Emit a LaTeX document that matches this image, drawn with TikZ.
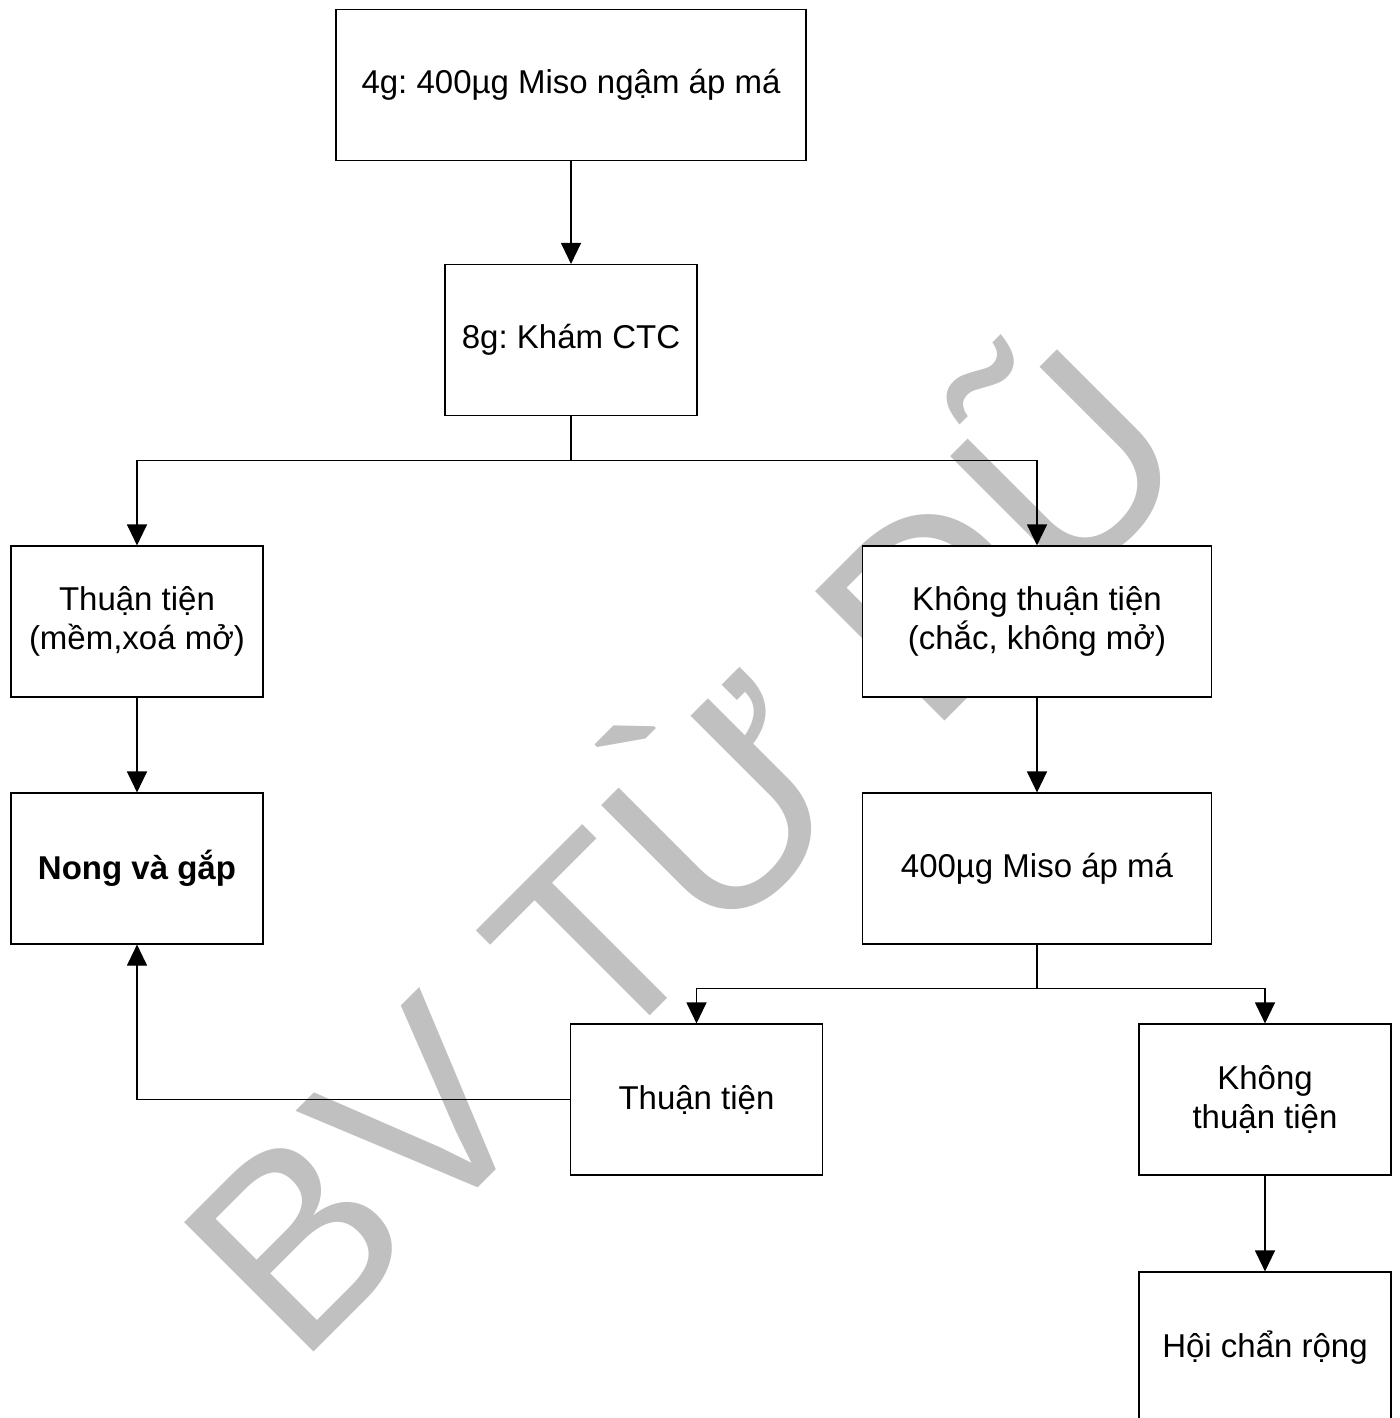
\documentclass[tikz,border=0pt]{standalone}
\usepackage{fontspec}
\setmainfont{Liberation Sans}
\usetikzlibrary{arrows.meta,trees}
\definecolor{wmgray}{HTML}{C0C0C0}
\frenchspacing
\begin{document}
\begin{tikzpicture}[->, >={Triangle[length=10.5pt,width=10pt]}, x=0.5pt, y=-0.5pt, line width=0.55pt,
        box/.style={draw, fill=white, minimum width=126pt, minimum height=75.5pt, inner sep=0pt, align=center, font=\fontsize{16.5}{19.5}\selectfont},
        widebox/.style={box, minimum width=174.5pt},
        edge from parent path={(\tikzparentnode.south) -- ++(0,-22pt) -| (\tikzchildnode.north)},
        level 1/.style={grow=down, level distance=127.5pt},
        level 2/.style={grow via three points={one child at (0pt,-140.75pt) and two children at (-217pt,-140.75pt) and (233pt,-140.75pt)}},
        level 3/.style={grow=down, level distance=123.5pt},
        level 4/.style={grow via three points={one child at (0pt,-115.5pt) and two children at (-170.25pt,-115.5pt) and (114pt,-115.5pt)}},
        level 5/.style={grow=down, level distance=124pt}]
    \useasboundingbox (0,0) rectangle (1400,1418);
    \node[rotate=45, anchor=base, inner sep=0pt, text=wmgray, font=\fontsize{133}{133}\selectfont] (wm) at (750,916) {BV TỪ DŨ};
    \node[box, minimum width=235pt] (miso4) at (571,85) {4g: 400µg Miso ngậm áp má}
        child { node[box] (kham) {8g: Khám CTC}
                child { node[box] (tt) {Thuận tiện\\(mềm,xoá mở)}
                        child { node[box] (nong) {\bfseries Nong và gắp}}}
                child { node[widebox] (ktt) {Không thuận tiện\\(chắc, không mở)}
                        child { node[widebox] (miso400) {400µg Miso áp má}
                                child { node[box] (tt2) {Thuận tiện}}
                                child { node[box] (ktt2) {Không\\thuận tiện}
                                        child { node[box] (hoichan) {Hội chẩn rộng}}}}}
            };
    \draw (tt2.west) -| (nong.south);
\end{tikzpicture}
\end{document}
